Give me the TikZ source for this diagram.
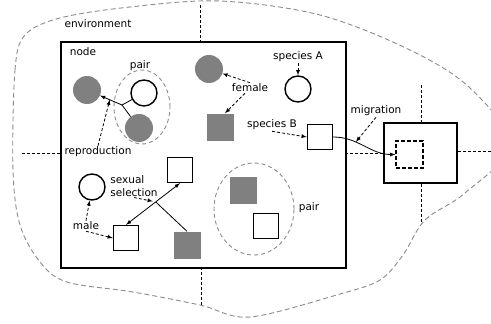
\documentclass[tikz,border=0pt]{standalone}
\usepackage{fontspec}
\setmainfont{DejaVu Sans}
\usetikzlibrary{positioning,calc,arrows,shapes.geometric}
\definecolor{fillgray}{gray}{0.5}
\definecolor{envgray}{gray}{0.55}
\tikzstyle{fem} = [circle, fill=fillgray, minimum size=28pt, inner sep=0pt]
\tikzstyle{mal} = [circle, draw, line width=1.4pt, minimum size=26pt, inner sep=0pt]
\tikzstyle{femsq} = [rectangle, fill=fillgray, minimum size=27pt, inner sep=0pt]
\tikzstyle{malsq} = [rectangle, draw, line width=1.4pt, minimum size=25pt, inner sep=0pt]
\tikzstyle{tag} = [inner sep=1pt]
\tikzstyle{pairing} = [draw=envgray, ellipse, dash pattern=on 4pt off 3pt, line width=0.9pt, inner sep=0pt]
\tikzstyle{edge} = [->, >=latex, line width=0.8pt]
\tikzstyle{note} = [->, >=latex, line width=0.8pt, dash pattern=on 3pt off 2pt]
\tikzstyle{border} = [line width=0.8pt, dash pattern=on 3pt off 2pt]
\tikzstyle{envline} = [draw=envgray, line width=0.9pt, dash pattern=on 5pt off 3pt]

\begin{document}
\begin{tikzpicture}[x=1pt, y=-1pt, font=\fontsize{10.5}{12.5}\selectfont]
	\useasboundingbox (0,0) rectangle (491,324);
	\clip (0,0) rectangle (491,324);
	\fill[white] (0,0) rectangle (491,324);

	% environment
	\draw[envline] plot[smooth cycle, tension=0.55] coordinates {(13,170) (15,70) (25,35) (60,18) (130,7) (220,1) (320,15) (410,50) (470,88) (510,145) (465,193) (425,220) (403,255) (380,280) (340,294) (250,317) (200,305) (133,292) (67,282) (40,262) (20,225)};
	\node[tag] (env) at (98,24) {environment};

	% node boxes
	\node[draw, line width=1.5pt, minimum width=285pt, minimum height=226pt] (nodebox) at (203.5,155) {};
	\node[draw, line width=1.5pt, minimum width=73pt, minimum height=60pt] (nextbox) at (420.5,153) {};
	\node[draw, line width=1.2pt, dash pattern=on 4pt off 2pt, minimum size=27pt] (ghost) at (409.5,154.5) {};
	\node[tag] (nodetxt) at (83,52) {node};

	% grid borders
	\coordinate (gN) at (200,5);
	\coordinate (gS) at (201,305);
	\coordinate (gW) at (22,153);
	\coordinate (hN) at (421,85);
	\coordinate (hS) at (421,222);
	\coordinate (hE) at (491,151);
	\draw[border] (gN) -- (gN |- nodebox.north);
	\draw[border] (gS) -- (gS |- nodebox.south);
	\draw[border] (gW) -- (gW -| nodebox.west);
	\draw[border] (nextbox.west) -- (nextbox.west -| nodebox.east);
	\draw[border] (hN) -- (hN |- nextbox.north);
	\draw[border] (hS) -- (hS |- nextbox.south);
	\draw[border] (hE) -- (hE -| nextbox.east);

	% reproduction
	\node[fem] (repL) at (87,90) {};
	\node[mal] (repM) at (144,93) {};
	\node[fem] (repF) at (139,128) {};
	\node[pairing, minimum width=56pt, minimum height=74pt] (pairL) at (142,107) {};
	\node[tag] (pairLtxt) at (140,66) {pair};
	\coordinate (jn) at (122,105);
	\draw[line width=0.8pt] (repM) -- (jn);
	\draw[line width=0.8pt] (repF) -- (jn);
	\draw[edge] (jn) -- (repL);
	\coordinate (repPt) at ($(jn)!0.35!(repL)$);
	\node[tag] (repro) at (98,152) {reproduction};
	\draw[note] (repro.north) -- (repPt);

	% female
	\node[fem] (femC) at (209,69) {};
	\node[femsq] (femSq) at (220,127) {};
	\node[tag] (female) at (250,88) {female};
	\draw[note] (female.north) -- (femC);
	\draw[note] ([xshift=-5pt]female.south) -- ([xshift=5pt]femSq.north);

	% species
	\node[mal] (spA) at (298,89) {};
	\node[tag] (spAtxt) at (298,57) {species A};
	\draw[note] (spAtxt) -- (spA);
	\node[malsq] (spB) at (320,137) {};
	\node[tag] (spBtxt) at (272,125) {species B};
	\draw[note] (spBtxt.south) -- (spB.west);

	% migration
	\draw[edge] (spB.east) to[out=0, in=180] coordinate[pos=0.35] (migPt) (ghost.west);
	\node[tag] (migr) at (376,111) {migration};
	\draw[note] (migr.south) -- (migPt);

	% sexual selection
	\node[mal] (selM) at (92,187) {};
	\node[malsq] (maleSq) at (126,238) {};
	\node[malsq] (selSq) at (180,170) {};
	\node[femsq] (selF) at (187,245) {};
	\node[tag, align=left] (seltxt) at (134,186) {sexual\\selection};
	\node[tag] (male) at (86,226) {male};
	\draw[edge, <->] (maleSq.north) -- (selSq.south);
	\coordinate (xPt) at ($(maleSq.north)!0.55!(selSq.south)$);
	\draw[line width=0.8pt] (selF.north) -- (xPt);
	\draw[note, shorten >=3pt] (seltxt.south) -- (xPt);
	\draw[note] (male.north) -- (selM);
	\draw[note] (male.south) -- (maleSq.west);

	% pair of squares
	\node[pairing, minimum width=80pt, minimum height=92pt] (pairR) at (254,209) {};
	\node[femsq] (prF) at (243,190) {};
	\node[malsq] (prM) at (266,226) {};
	\node[tag] (pairRtxt) at (309,208) {pair};
\end{tikzpicture}
\end{document}
